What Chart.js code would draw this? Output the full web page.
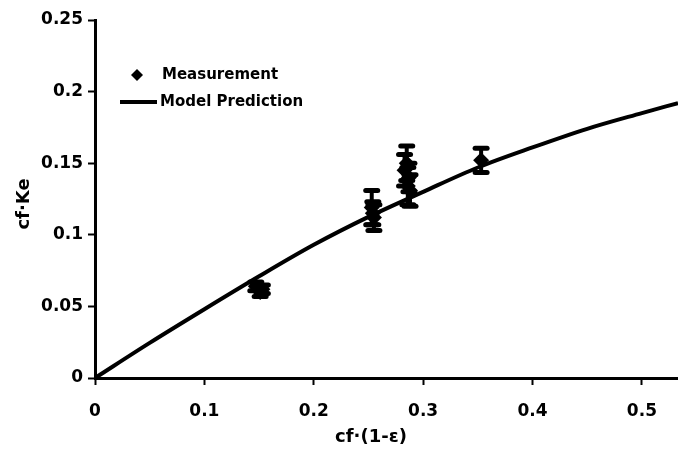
<!DOCTYPE html>
<html>
<head>
<meta charset="utf-8">
<script src="https://cdn.jsdelivr.net/npm/chart.js@4.4.1/dist/chart.umd.min.js"></script>
<style>
html,body{margin:0;padding:0;background:#fff;}
#wrap{width:678px;height:451px;}
</style>
</head>
<body>
<div id="wrap"><canvas id="c" width="678" height="451"></canvas></div>
<script>
// ---- data ----
const measX   = [0.147, 0.151, 0.153, 0.253, 0.255, 0.254, 0.285, 0.283, 0.287, 0.286, 0.288, 0.353];
const measY   = [0.064, 0.060, 0.062, 0.119, 0.112, 0.115, 0.150, 0.145, 0.140, 0.134, 0.131, 0.152];
const measErr = [0.003, 0.003, 0.003, 0.012, 0.009, 0.008, 0.012, 0.011, 0.010, 0.013, 0.011, 0.0085];

const modelX = [0, 0.05, 0.1, 0.15, 0.2, 0.25, 0.3, 0.35, 0.4, 0.45, 0.5, 0.533];
const modelY = [0, 0.0245, 0.048, 0.071, 0.093, 0.1125, 0.130, 0.147, 0.161, 0.174, 0.185, 0.192];

const xTickLabels = ['0', '0.1', '0.2', '0.3', '0.4', '0.5'];
const yTickLabels = ['0', '0.05', '0.1', '0.15', '0.2', '0.25'];

const seriesNames = ['Measurement', 'Model Prediction'];
const xTitle = 'cf\u00b7(1-\u03b5)';
const yTitle = 'cf\u00b7Ke';

const FONT = '"DejaVu Sans", sans-serif';

const errorBars = {
  id: 'errorBars',
  afterDatasetsDraw(chart) {
    const {ctx, scales: {x, y}} = chart;
    ctx.save();
    ctx.strokeStyle = '#000';
    ctx.lineCap = 'round';
    for (let i = 0; i < measX.length; i++) {
      const px = x.getPixelForValue(measX[i]);
      const top = y.getPixelForValue(measY[i] + measErr[i]);
      const bot = y.getPixelForValue(measY[i] - measErr[i]);
      ctx.lineWidth = 4;
      ctx.beginPath(); ctx.moveTo(px, top); ctx.lineTo(px, bot); ctx.stroke();
      ctx.lineWidth = 5;
      ctx.beginPath(); ctx.moveTo(px - 6, top); ctx.lineTo(px + 6, top); ctx.stroke();
      ctx.beginPath(); ctx.moveTo(px - 6, bot); ctx.lineTo(px + 6, bot); ctx.stroke();
    }
    ctx.restore();
  }
};

const decor = {
  id: 'decor',
  afterDraw(chart) {
    const ctx = chart.ctx;
    const a = chart.chartArea;
    ctx.save();
    ctx.fillStyle = '#000';
    ctx.strokeStyle = '#000';
    // legend
    const lx = a.left + 42, ly1 = a.top + 55, ly2 = a.top + 82;
    ctx.beginPath();
    ctx.moveTo(lx, ly1 - 6); ctx.lineTo(lx + 6, ly1); ctx.lineTo(lx, ly1 + 6); ctx.lineTo(lx - 6, ly1);
    ctx.closePath(); ctx.fill();
    ctx.lineWidth = 4;
    ctx.beginPath(); ctx.moveTo(a.left + 25, ly2); ctx.lineTo(a.left + 62, ly2); ctx.stroke();
    ctx.font = 'bold 15px ' + FONT;
    ctx.textBaseline = 'middle';
    ctx.textAlign = 'left';
    ctx.fillText(seriesNames[0], a.left + 67, ly1);
    ctx.fillText(seriesNames[1], a.left + 65, ly2);
    // axis titles
    ctx.font = 'bold 18px ' + FONT;
    ctx.textAlign = 'center';
    ctx.fillText(xTitle, 371, 437);
    ctx.translate(24, 204);
    ctx.rotate(-Math.PI / 2);
    ctx.fillText(yTitle, 0, 0);
    ctx.restore();
  }
};

new Chart(document.getElementById('c'), {
  type: 'scatter',
  data: {
    datasets: [
      {
        label: seriesNames[1],
        data: modelX.map((v, i) => ({x: v, y: modelY[i]})),
        showLine: true,
        borderColor: '#000',
        borderWidth: 4,
        pointRadius: 0,
        tension: 0.4,
        cubicInterpolationMode: 'monotone',
        order: 2
      },
      {
        label: seriesNames[0],
        data: measX.map((v, i) => ({x: v, y: measY[i]})),
        pointStyle: 'rectRot',
        pointRadius: 8,
        backgroundColor: '#000',
        borderColor: '#000',
        borderWidth: 0,
        order: 1
      }
    ]
  },
  options: {
    responsive: false,
    animation: false,
    devicePixelRatio: 1,
    layout: {autoPadding: false, padding: {top: 20, right: 0, left: 0, bottom: 0}},
    plugins: {legend: {display: false}, tooltip: {enabled: false}},
    scales: {
      x: {
        type: 'linear',
        min: 0, max: 0.533,
        afterFit(s) { s.height = 73; s.paddingRight = 0; s.paddingLeft = 0; },
        border: {display: true, color: '#000', width: 3},
        grid: {display: true, drawOnChartArea: false, drawTicks: true, tickLength: 7, tickWidth: 2, tickColor: '#000'},
        ticks: {
          stepSize: 0.1, includeBounds: false, color: '#000', padding: 16,
          font: {family: FONT, size: 17, weight: 'bold'},
          maxRotation: 0,
          callback: (v, i) => xTickLabels[i]
        }
      },
      y: {
        type: 'linear',
        min: 0, max: 0.25,
        afterFit(s) { s.width = 95; },
        border: {display: true, color: '#000', width: 3},
        grid: {display: true, drawOnChartArea: false, drawTicks: true, tickLength: 7, tickWidth: 2, tickColor: '#000'},
        ticks: {
          stepSize: 0.05, color: '#000', padding: 5,
          font: {family: FONT, size: 17, weight: 'bold'},
          callback: (v, i) => yTickLabels[i]
        }
      }
    }
  },
  plugins: [errorBars, decor]
});
</script>
</body>
</html>
